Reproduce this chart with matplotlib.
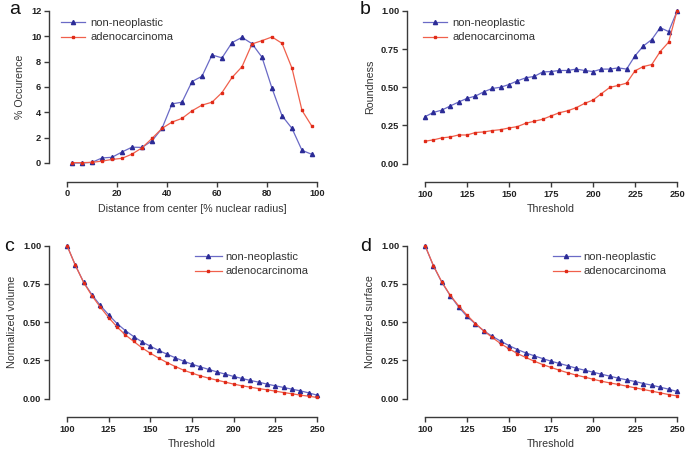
import numpy as np
import matplotlib
matplotlib.use("Agg")
import matplotlib.pyplot as plt

plt.rcParams['font.family'] = ['Liberation Sans', 'DejaVu Sans']

# ---- data ----
dist = [2, 6, 10, 14, 18, 22, 26, 30, 34, 38, 42, 46, 50, 54, 58, 62, 66, 70, 74, 78, 82, 86, 90, 94, 98]
occ_non = [0.0, 0.0, 0.05, 0.4, 0.45, 0.87, 1.25, 1.23, 1.75, 2.73, 4.67, 4.8, 6.43, 6.85, 8.53, 8.3,
           9.5, 9.92, 9.42, 8.35, 5.9, 3.73, 2.73, 1.0, 0.68]
occ_ade = [0.03, 0.03, 0.05, 0.15, 0.28, 0.37, 0.7, 1.2, 1.94, 2.73, 3.23, 3.52, 4.12, 4.57, 4.8, 5.56,
           6.75, 7.6, 9.4, 9.66, 9.95, 9.45, 7.48, 4.15, 2.89]

threshold = list(range(100, 251, 5))
round_non = [0.307, 0.335, 0.35, 0.377, 0.403, 0.427, 0.442, 0.47, 0.492, 0.5, 0.518, 0.542, 0.562, 0.571,
             0.6, 0.603, 0.61, 0.61, 0.619, 0.61, 0.603, 0.619, 0.619, 0.627, 0.619, 0.706, 0.771, 0.813,
             0.891, 0.865, 0.998]
round_ade = [0.146, 0.155, 0.168, 0.174, 0.187, 0.187, 0.203, 0.207, 0.216, 0.222, 0.233, 0.242, 0.264,
             0.277, 0.29, 0.312, 0.333, 0.346, 0.366, 0.394, 0.416, 0.458, 0.499, 0.512, 0.527, 0.608,
             0.636, 0.649, 0.734, 0.795, 1.0]
vol_non = [1.0, 0.871, 0.76, 0.678, 0.608, 0.547, 0.49, 0.444, 0.405, 0.37, 0.342, 0.314, 0.29, 0.266,
           0.244, 0.224, 0.207, 0.19, 0.174, 0.159, 0.144, 0.131, 0.118, 0.107, 0.094, 0.083, 0.072,
           0.061, 0.05, 0.037, 0.022]
vol_ade = [1.0, 0.871, 0.758, 0.671, 0.597, 0.529, 0.468, 0.416, 0.373, 0.331, 0.296, 0.264, 0.235,
           0.209, 0.185, 0.166, 0.148, 0.133, 0.12, 0.107, 0.094, 0.083, 0.074, 0.065, 0.057, 0.048,
           0.039, 0.031, 0.022, 0.015, 0.007]
surf_non = [1.0, 0.867, 0.76, 0.673, 0.599, 0.536, 0.488, 0.442, 0.407, 0.375, 0.346, 0.32, 0.298,
            0.279, 0.261, 0.244, 0.229, 0.214, 0.198, 0.185, 0.172, 0.159, 0.146, 0.133, 0.122, 0.111,
            0.098, 0.087, 0.074, 0.061, 0.046]
surf_ade = [1.0, 0.869, 0.762, 0.675, 0.606, 0.545, 0.49, 0.442, 0.399, 0.359, 0.325, 0.294, 0.268,
            0.244, 0.222, 0.203, 0.185, 0.168, 0.153, 0.14, 0.126, 0.113, 0.102, 0.092, 0.081, 0.07,
            0.059, 0.048, 0.037, 0.026, 0.017]

series_labels = ['non-neoplastic', 'adenocarcinoma']

W, H = 685, 451
fig = plt.figure(figsize=(W / 100, H / 100), dpi=100)

def ax_px(left, right, top, bottom):
    return fig.add_axes([left / W, 1 - bottom / H, (right - left) / W, (bottom - top) / H])

BLUE_L, BLUE_M = '#6a6ac6', '#2b2b96'
RED_L, RED_M = '#f0604c', '#e02a18'
SPINE = '#3a3a3a'

def style(ax, xticks, yticks, xlabel, ylabel, xlim, ylim, yfmt):
    ax.set_xlim(*xlim)
    ax.set_ylim(*ylim)
    for s in ['top', 'right']:
        ax.spines[s].set_visible(False)
    ax.spines['left'].set_position(('outward', 13))
    ax.spines['bottom'].set_position(('outward', 13.5))
    ax.spines['left'].set_bounds(yticks[0], yticks[-1])
    ax.spines['bottom'].set_bounds(xticks[0], xticks[-1])
    for s in ['left', 'bottom']:
        ax.spines[s].set_color(SPINE)
        ax.spines[s].set_linewidth(1.0)
    ax.set_xticks(xticks)
    ax.set_yticks(yticks)
    ax.set_yticklabels([yfmt.format(v) for v in yticks])
    ax.tick_params(direction='out', length=3.5, width=1.0, color=SPINE, labelsize=6.7,
                   labelcolor='#222222', pad=2)
    for lab in ax.get_xticklabels() + ax.get_yticklabels():
        lab.set_fontweight('bold')
    ax.set_xlabel(xlabel, fontsize=7.7, color='#333333', labelpad=4)
    ax.set_ylabel(ylabel, fontsize=7.7, color='#333333', labelpad=4.5)
    ax.patch.set_visible(False)

def draw(ax, x, y1, y2):
    l1, = ax.plot(x, y1, color=BLUE_L, lw=0.9, marker='^', ms=3.0, mfc=BLUE_M, mec=BLUE_M,
                  clip_on=False, zorder=3)
    l2, = ax.plot(x, y2, color=RED_L, lw=0.9, marker='s', ms=2.0, mfc=RED_M, mec=RED_M,
                  clip_on=False, zorder=3)
    return l1, l2

def legend(ax, handles, x, y, hl, pad):
    ax.legend(handles, series_labels, loc='upper left', bbox_to_anchor=(x / W, 1 - y / H),
              bbox_transform=fig.transFigure, frameon=False, fontsize=8, borderpad=0,
              borderaxespad=0, handlelength=hl, handletextpad=pad, labelspacing=0.4,
              labelcolor='#333333')

# panel a
axa = ax_px(67, 317, 11, 163)
h = draw(axa, dist, occ_non, occ_ade)
style(axa, [0, 20, 40, 60, 80, 100], [0, 2, 4, 6, 8, 10, 12],
      'Distance from center [% nuclear radius]', '% Occurence', (0, 100), (0, 12), '{:.0f}')
legend(axa, h, 61, 18, 2.2, 0.45)

# panel b
axb = ax_px(425, 677, 11, 163.5)
h = draw(axb, threshold, round_non, round_ade)
style(axb, [100, 125, 150, 175, 200, 225, 250], [0, 0.25, 0.5, 0.75, 1.0],
      'Threshold', 'Roundness', (100, 250), (0, 1), '{:.2f}')
legend(axb, h, 423, 18, 2.2, 0.45)

# panel c
axc = ax_px(67, 317, 245.5, 398.5)
h = draw(axc, threshold, vol_non, vol_ade)
style(axc, [100, 125, 150, 175, 200, 225, 250], [0, 0.25, 0.5, 0.75, 1.0],
      'Threshold', 'Normalized volume', (100, 250), (0, 1), '{:.2f}')
legend(axc, h, 195, 252, 2.4, 0.3)

# panel d
axd = ax_px(425, 677, 245.5, 398.5)
h = draw(axd, threshold, surf_non, surf_ade)
style(axd, [100, 125, 150, 175, 200, 225, 250], [0, 0.25, 0.5, 0.75, 1.0],
      'Threshold', 'Normalized surface', (100, 250), (0, 1), '{:.2f}')
legend(axd, h, 553, 252, 2.4, 0.3)

for lab, x, y in [('a', 9, 14), ('b', 360, 14), ('c', 4, 251), ('d', 360, 251)]:
    fig.text(x / W, 1 - y / H, lab, fontsize=14, color='#111111', ha='left', va='baseline')

fig.savefig('out.png', dpi=100)
